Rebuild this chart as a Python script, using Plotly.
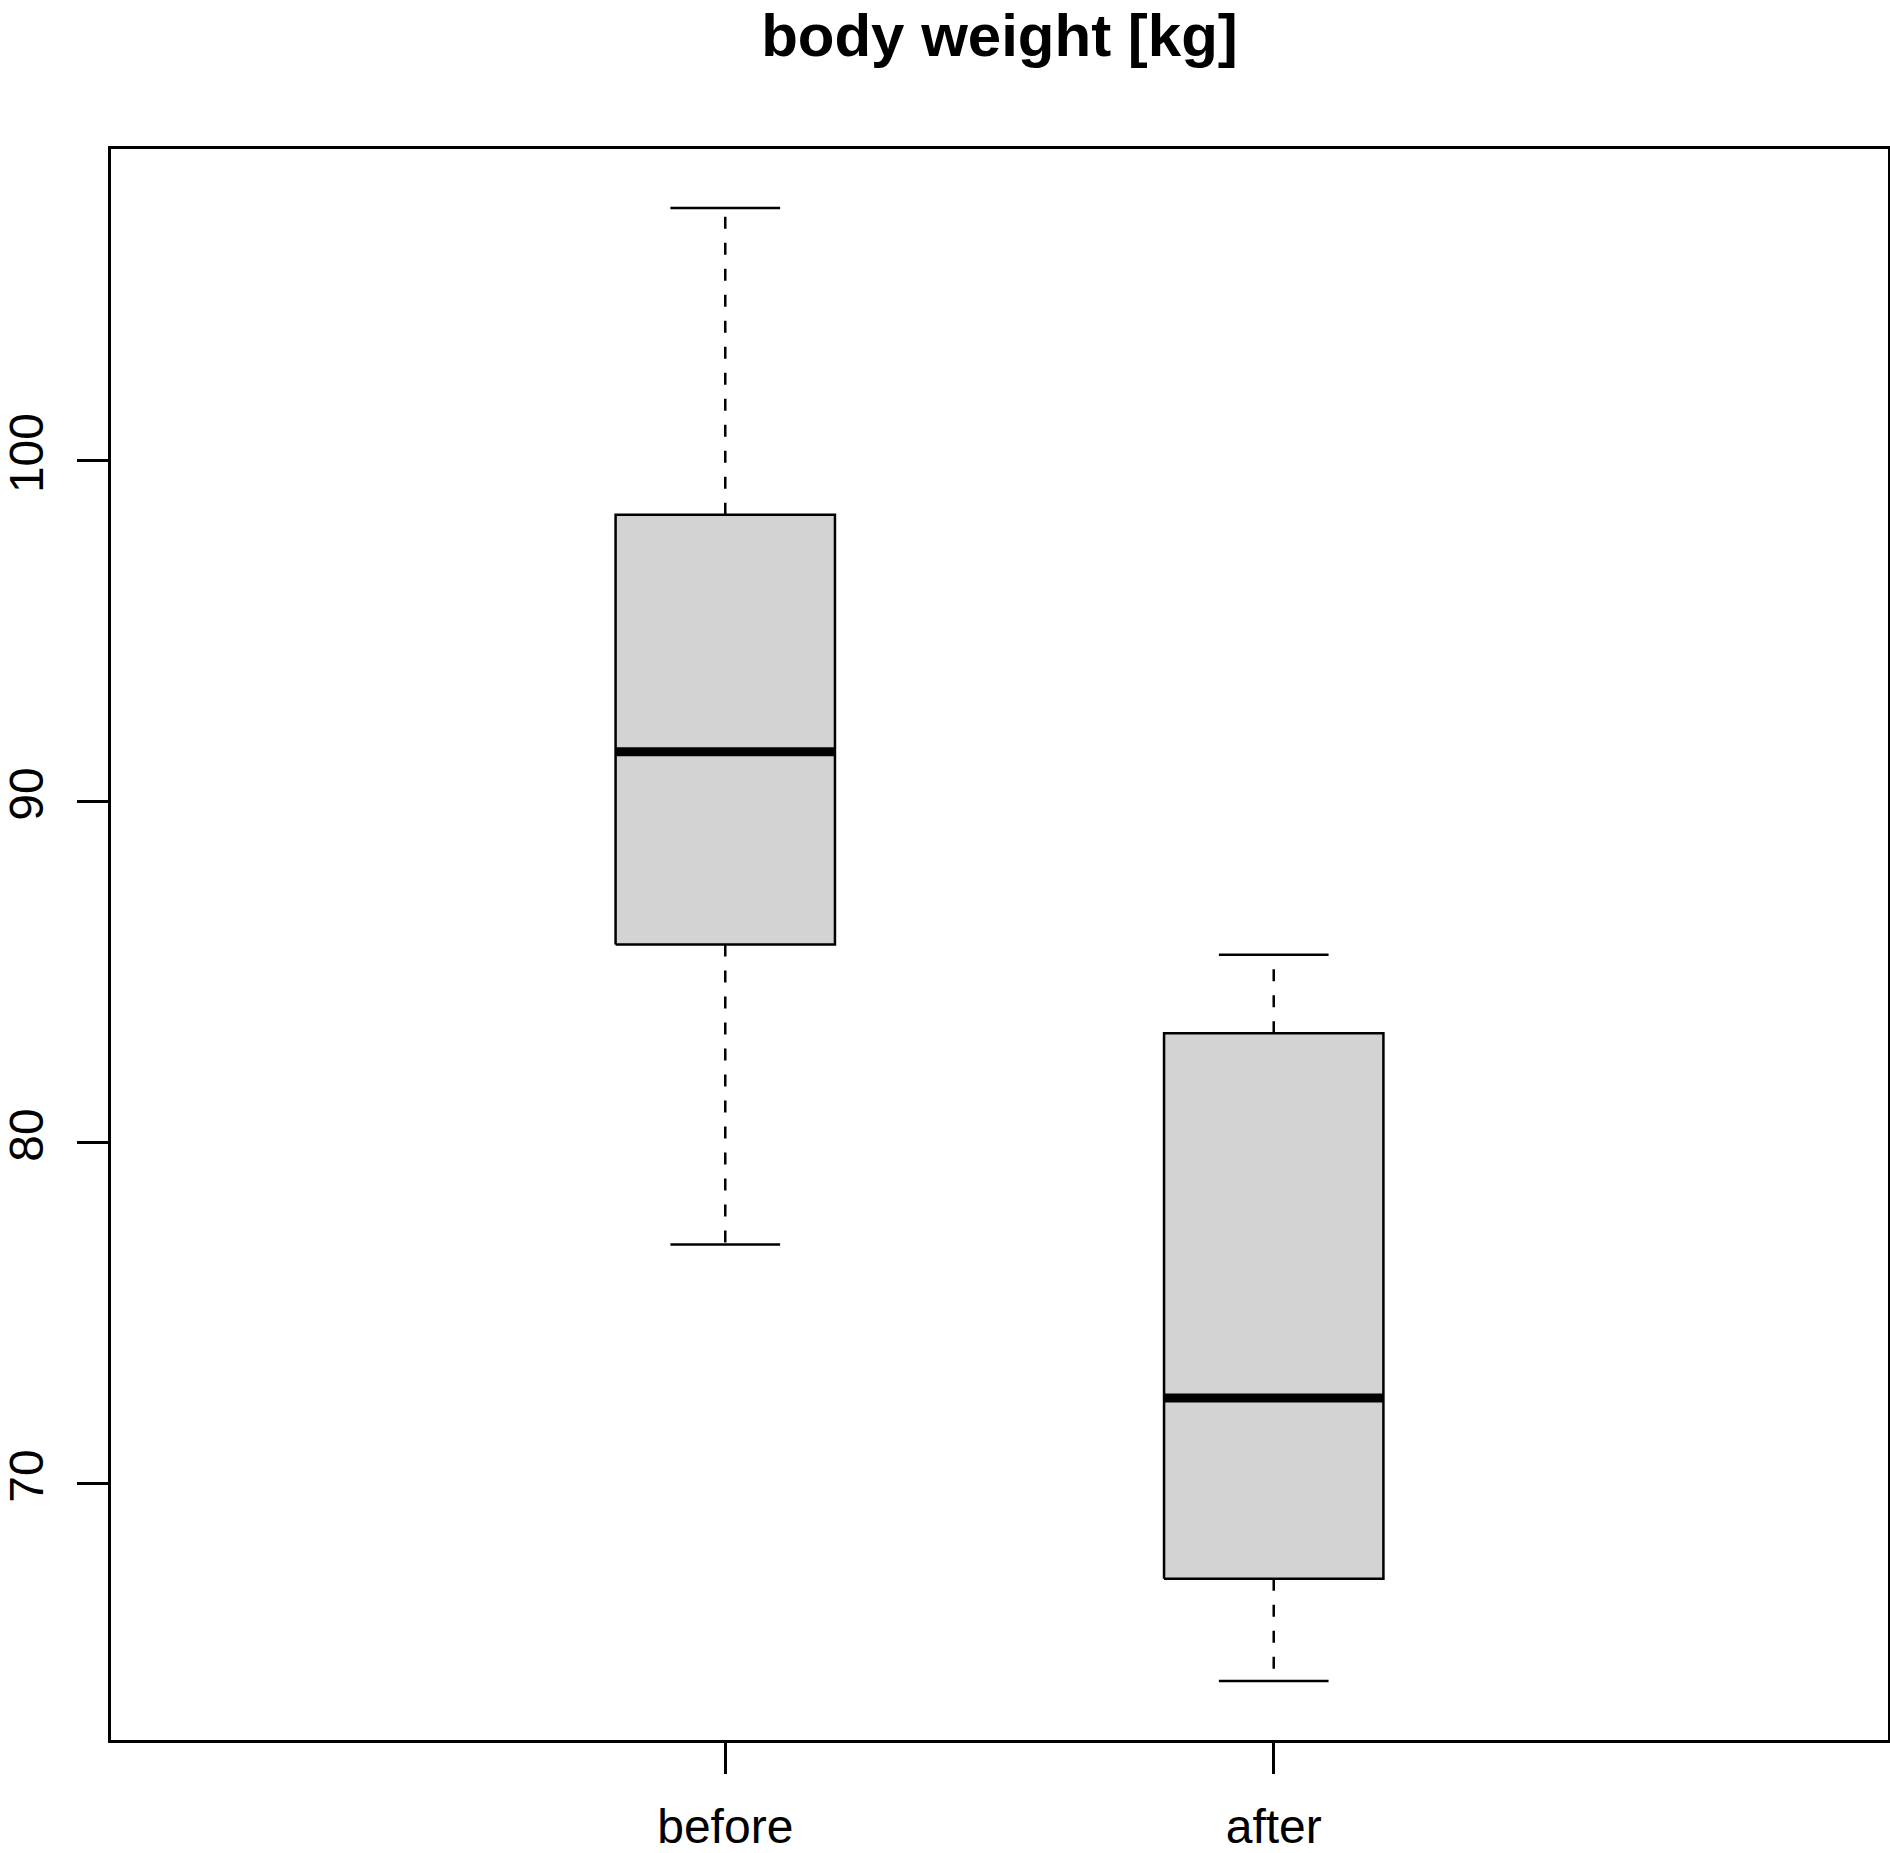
import plotly.graph_objects as go

# five-number summaries
groups = ["before", "after"]
positions = [1, 2]
lower_whisker = [77.0, 64.2]
q1 = [85.8, 67.2]
median = [91.45, 72.5]
q3 = [98.4, 83.2]
upper_whisker = [107.4, 85.5]

y_ticks = [70, 80, 90, 100]

box_w = 0.4
cap_w = 0.2

fig = go.Figure()

for i, p in enumerate(positions):
    l, r = p - box_w / 2, p + box_w / 2
    # whiskers (dashed)
    fig.add_trace(go.Scatter(x=[p, p], y=[q3[i], upper_whisker[i]], mode="lines",
                             line=dict(color="black", width=2.5, dash="12px,14px")))
    fig.add_trace(go.Scatter(x=[p, p], y=[q1[i], lower_whisker[i]], mode="lines",
                             line=dict(color="black", width=2.5, dash="12px,14px")))
    # caps
    for v in (lower_whisker[i], upper_whisker[i]):
        fig.add_trace(go.Scatter(x=[p - cap_w / 2, p + cap_w / 2], y=[v, v], mode="lines",
                                 line=dict(color="black", width=2.5)))
    # box
    fig.add_trace(go.Scatter(x=[l, r, r, l, l], y=[q1[i], q1[i], q3[i], q3[i], q1[i]],
                             mode="lines", fill="toself", fillcolor="#d3d3d3",
                             line=dict(color="black", width=2.5)))
    # median
    fig.add_trace(go.Scatter(x=[l, r], y=[median[i], median[i]], mode="lines",
                             line=dict(color="black", width=9)))

lo = min(lower_whisker)
hi = max(upper_whisker)
pad = (hi - lo) * 0.04

fig.update_layout(
    width=1890, height=1853,
    paper_bgcolor="white", plot_bgcolor="white",
    showlegend=False,
    margin=dict(l=111, r=2, t=149, b=113, autoexpand=False),
    font=dict(family="Liberation Sans", color="black"),
    title=dict(text="<b>body weight [kg]</b>", x=0.5, xref="paper",
               y=1 - 35 / 1853, yref="container", yanchor="middle",
               font=dict(size=60, family="Liberation Sans", color="black")),
)
fig.update_xaxes(range=[-0.12, 3.12], tickvals=positions, ticktext=groups,
                 showgrid=False, zeroline=False, showline=True, mirror=True,
                 linecolor="black", linewidth=2.5, ticks="outside", ticklen=31,
                 tickwidth=2.5, tickcolor="black", tickfont=dict(size=48),
                 ticklabelstandoff=12, automargin=False)
fig.update_yaxes(range=[lo - pad, hi + pad], tickvals=y_ticks,
                 showgrid=False, zeroline=False, showline=True, mirror=True,
                 linecolor="black", linewidth=2.5, ticks="outside", ticklen=31,
                 tickwidth=2.5, tickcolor="black", tickangle=-90, tickfont=dict(size=48),
                 ticklabelstandoff=15, automargin=False)

fig.write_html("out.html", config={"displayModeBar": False},
               post_script="document.body.style.margin='0';")
